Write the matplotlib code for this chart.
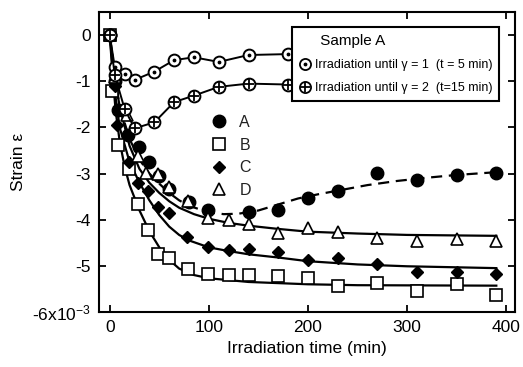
import matplotlib
matplotlib.use("Agg")
import matplotlib.pyplot as plt
from matplotlib.lines import Line2D
from matplotlib.legend_handler import HandlerTuple

plt.rcParams["font.family"] = ["Liberation Sans", "DejaVu Sans"]
plt.rcParams["axes.unicode_minus"] = False
plt.rcParams["mathtext.default"] = "regular"

# strain in units of 1e-3, time in min
t_A = [0, 5, 8, 18, 30, 40, 50, 60, 80, 99, 140, 170, 200, 230, 270, 310, 350, 390]
eps_A = [0, -1.0, -1.62, -2.16, -2.43, -2.75, -3.05, -3.34, -3.62, -3.79,
         -3.83, -3.79, -3.53, -3.38, -2.98, -3.15, -3.03, -2.98]

t_B = [0, 2, 8, 19, 29, 39, 49, 60, 79, 99, 120, 140, 170, 200, 230, 270, 310, 350, 390]
eps_B = [0, -1.22, -2.38, -2.91, -3.67, -4.23, -4.74, -4.82, -5.06, -5.18,
         -5.20, -5.19, -5.21, -5.26, -5.43, -5.38, -5.54, -5.39, -5.64]

t_C = [0, 5, 7, 19, 28, 39, 49, 60, 78, 99, 120, 140, 170, 200, 230, 270, 310, 350, 390]
eps_C = [0, -1.1, -1.94, -2.74, -3.20, -3.38, -3.72, -3.85, -4.37, -4.60,
         -4.65, -4.64, -4.69, -4.88, -4.82, -4.97, -5.13, -5.13, -5.17]

t_D = [0, 5, 17, 29, 37, 49, 60, 79, 99, 120, 140, 170, 200, 230, 270, 310, 350, 390]
eps_D = [0, -0.9, -1.73, -2.62, -2.99, -3.02, -3.30, -3.60, -3.96, -4.00,
         -4.10, -4.28, -4.17, -4.27, -4.39, -4.46, -4.41, -4.46]

# fitted curves
fit_t_A = [0, 5, 10, 20, 30, 40, 50, 60, 70, 80, 100, 115, 130, 150, 170, 190,
           210, 230, 260, 290, 320, 350, 390]
fit_A = [0, -0.9, -1.55, -2.25, -2.7, -3.0, -3.22, -3.42, -3.58, -3.7, -3.84,
         -3.88, -3.87, -3.8, -3.67, -3.54, -3.45, -3.37, -3.25, -3.16, -3.09, -3.03, -2.97]

fit_t_B = [0, 3, 6, 10, 15, 20, 30, 40, 50, 60, 70, 85, 100, 140, 200, 250, 390]
fit_B = [0, -0.9, -1.65, -2.3, -2.85, -3.25, -3.8, -4.25, -4.6, -4.87, -5.06,
         -5.2, -5.27, -5.35, -5.4, -5.42, -5.43]

fit_t_C = [0, 5, 10, 20, 30, 40, 50, 60, 70, 80, 100, 120, 140, 170, 200, 250, 300, 390]
fit_C = [0, -1.2, -2.0, -2.75, -3.2, -3.58, -3.9, -4.15, -4.33, -4.45, -4.6,
         -4.68, -4.75, -4.82, -4.9, -4.97, -5.01, -5.05]

fit_t_D = [0, 5, 10, 20, 30, 40, 50, 60, 70, 85, 100, 120, 140, 170, 200, 250, 300, 390]
fit_D = [0, -0.9, -1.55, -2.4, -2.9, -3.2, -3.42, -3.6, -3.74, -3.88, -3.98,
         -4.07, -4.13, -4.2, -4.26, -4.3, -4.33, -4.35]

# sample A, irradiation until gamma = 1 / gamma = 2
t_g1 = [0, 5, 15, 25, 45, 65, 85, 110, 140, 180]
eps_g1 = [0, -0.68, -0.84, -0.97, -0.79, -0.54, -0.48, -0.58, -0.43, -0.41]
t_g2 = [0, 5, 15, 25, 45, 65, 85, 110, 140, 180]
eps_g2 = [0, -0.86, -1.60, -2.02, -1.89, -1.45, -1.31, -1.12, -1.05, -1.07]

y_ticks = [0, -1, -2, -3, -4, -5, -6]
y_labels = ["0", "-1", "-2", "-3", "-4", "-5", "-6x10$^{-3}$"]
x_ticks = [0, 100, 200, 300, 400]

fig = plt.figure(figsize=(5.23, 3.67), dpi=100)
ax = fig.add_axes([0.189, 0.150, 0.796, 0.817])

# fit lines
ax.plot(fit_t_A, fit_A, "k--", lw=1.6, dashes=(5, 3))
ax.plot(fit_t_B, fit_B, "k-", lw=1.6)
ax.plot(fit_t_C, fit_C, "k-", lw=1.6)
ax.plot(fit_t_D, fit_D, "k-", lw=1.6)

# data markers
mA, = ax.plot(t_A, eps_A, "o", color="k", ms=9, ls="none")
mB, = ax.plot(t_B, eps_B, "s", mfc="white", mec="k", mew=1.2, ms=9, ls="none")
mC, = ax.plot(t_C, eps_C, "D", color="k", ms=6.5, ls="none")
mD, = ax.plot(t_D, eps_D, "^", mfc="white", mec="k", mew=1.2, ms=9, ls="none")

# sample A gamma curves
ax.plot(t_g1, eps_g1, "-", color="k", lw=1.4, marker="o", mfc="white",
        mec="k", mew=1.4, ms=8.5)
ax.plot(t_g1, eps_g1, ".", color="k", ms=3.5, ls="none")
ax.plot(t_g2, eps_g2, "-", color="k", lw=1.4, marker="o", mfc="white",
        mec="k", mew=1.4, ms=8.5)
ax.plot(t_g2, eps_g2, "+", color="k", ms=7, mew=1.3, ls="none")

ax.set_xlim(-11, 409)
ax.set_ylim(-6, 0.5)
ax.set_xticks(x_ticks)
ax.set_yticks(y_ticks)
ax.set_yticklabels(y_labels)
ax.tick_params(direction="in", length=5, width=1.3, top=True, right=True,
               labelsize=12.5, pad=6)
for s in ax.spines.values():
    s.set_linewidth(1.5)

ax.set_xlabel("Irradiation time (min)", fontsize=12.5)
ax.set_ylabel("Strain ε", fontsize=12.5, labelpad=4)

# legend for sample A
c_open = dict(marker="o", mfc="white", mec="k", mew=1.3, ms=8, ls="none", color="k")
h1 = (Line2D([], [], **c_open), Line2D([], [], marker=".", color="k", ms=3.5, ls="none"))
h2 = (Line2D([], [], **c_open), Line2D([], [], marker="+", color="k", ms=7, mew=1.3, ls="none"))
leg1 = ax.legend([h1, h2],
                 ["Irradiation until γ = 1  (t = 5 min)",
                  "Irradiation until γ = 2  (t=15 min)"],
                 handler_map={tuple: HandlerTuple(ndivide=1, pad=0)},
                 title="     Sample A", title_fontsize=11, alignment="left",
                 fontsize=9, loc="upper right", bbox_to_anchor=(0.962, 0.95),
                 borderaxespad=0, handlelength=0.9, handletextpad=0.35,
                 labelspacing=0.9, borderpad=0.55, fancybox=False,
                 edgecolor="k", framealpha=1)
leg1.get_frame().set_linewidth(1.5)
ax.add_artist(leg1)

# legend for samples A-D
ax.legend([mA, mB, mC, mD], ["A", "B", "C", "D"], fontsize=11.5,
          loc="upper left", bbox_to_anchor=(0.236, 0.705), frameon=False,
          handlelength=1.0, handletextpad=0.75, labelspacing=0.48,
          labelcolor="#222222")

fig.savefig("out.png", dpi=100)
